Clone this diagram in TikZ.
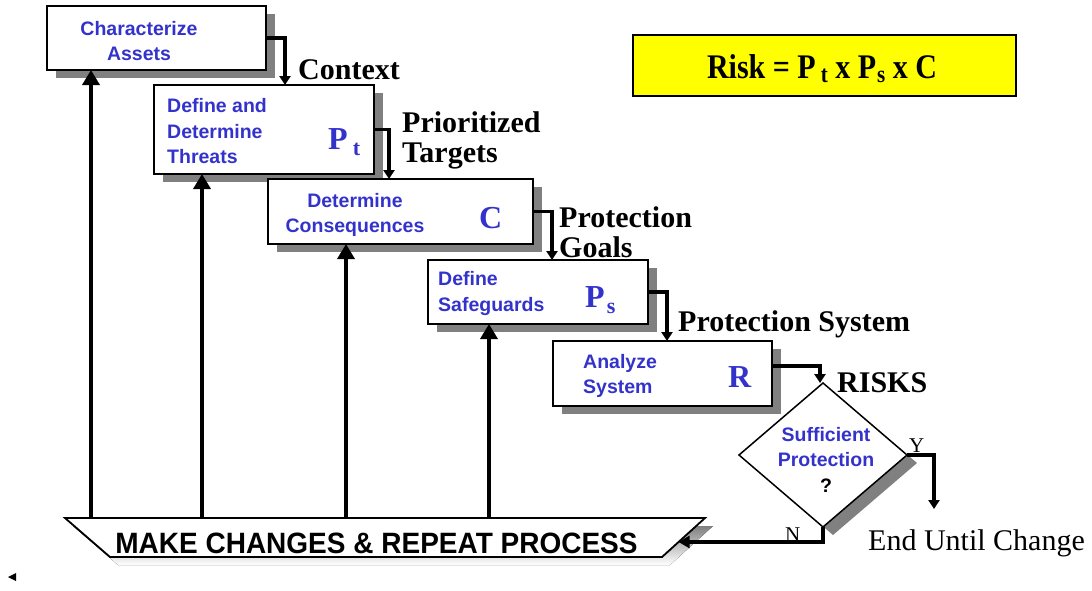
\documentclass[tikz,border=0pt]{standalone}
\usepackage{fontspec}
\usepackage{graphicx}
\newfontfamily\arl{Liberation Sans}
\newfontfamily\tnr{Liberation Serif}
\usetikzlibrary{shapes.geometric,arrows.meta,shadows,calc}
\definecolor{boxblue}{RGB}{51,51,204}
\definecolor{shade}{RGB}{128,128,128}
\definecolor{riskyellow}{RGB}{255,255,0}
\begin{document}
\begin{tikzpicture}[x=1pt,y=-1pt,
  stepbox/.style={draw=black, line width=1.8pt, fill=white, inner sep=0pt, outer sep=0pt,
    drop shadow={shadow xshift=9pt, shadow yshift=-8pt, fill=shade, opacity=1}},
  btxt/.style={font=\arl\bfseries\fontsize{19.5}{25.5}\selectfont, text=boxblue, inner sep=0pt},
  sym/.style={font=\tnr\bfseries\fontsize{32}{32}\selectfont, text=boxblue, inner sep=0pt, anchor=base west},
  lbl/.style={font=\tnr\bfseries\fontsize{30}{30}\selectfont, inner sep=0pt, anchor=base west},
  plain/.style={font=\tnr\fontsize{30}{30}\selectfont, inner sep=0pt, anchor=base west},
  yn/.style={font=\tnr\fontsize{21}{21}\selectfont, inner sep=0pt, anchor=base west},
  conn/.style={line width=3.2pt, -{Triangle[width=11pt,length=9pt]}},
  uparr/.style={line width=3.5pt, -{Triangle[width=17pt,length=15pt]}}
]
\useasboundingbox (0,0) rectangle (1092,590);

% process boxes
\node[stepbox, minimum width=219pt, minimum height=64pt] (b1) at (156.5,38) {};
\node[stepbox, minimum width=220pt, minimum height=89pt] (b2) at (264,129.5) {};
\node[stepbox, minimum width=265pt, minimum height=65pt] (b3) at (400.5,211.5) {};
\node[stepbox, minimum width=220pt, minimum height=64pt] (b4) at (538,292) {};
\node[stepbox, minimum width=219pt, minimum height=65pt] (b5) at (662.5,373.5) {};

% decision diamond
\node[diamond, draw=black, line width=1.5pt, fill=white, inner sep=0pt, outer sep=0pt,
  minimum width=168pt, minimum height=144pt,
  drop shadow={shadow xshift=10pt, shadow yshift=-8pt, fill=shade, opacity=1}] (dia) at (823,455) {};

% trapezoid
\coordinate (tzTL) at (65,518);
\coordinate (tzTR) at (705,518);
\coordinate (tzBR) at (662,557);
\coordinate (tzBL) at (110,557);
\fill[shade] ($(tzTL)+(8,8)$) -- ($(tzTR)+(8,8)$) -- ($(tzBR)+(8,8)$) -- ($(tzBL)+(8,8)$) -- cycle;
\draw[line width=1.8pt, fill=white] (tzTL) -- (tzTR) -- (tzBR) -- (tzBL) -- cycle;
\node[font=\arl\bfseries\fontsize{28}{28}\selectfont, inner sep=0pt, anchor=base] (mk) at (376.5,553.5) {\scalebox{1}[1.05]{MAKE CHANGES \& REPEAT PROCESS}};

% box texts
\node[btxt, anchor=base] (t1) at (139,35) {\begin{tabular}[t]{@{}c@{}}Characterize\\Assets\end{tabular}};
\node[btxt, anchor=base west] (t2) at (167,112.7) {\begin{tabular}[t]{@{}l@{}}Define and\\Determine\\Threats\end{tabular}};
\node[btxt, anchor=base] (t3) at (355,207.3) {\begin{tabular}[t]{@{}c@{}}Determine\\Consequences\end{tabular}};
\node[btxt, anchor=base west] (t4) at (438,285.5) {\begin{tabular}[t]{@{}l@{}}Define\\Safeguards\end{tabular}};
\node[btxt, anchor=base west] (t5) at (583,368) {\begin{tabular}[t]{@{}l@{}}Analyze\\System\end{tabular}};
\node[btxt, anchor=base] (t6) at (826,441) {\begin{tabular}[t]{@{}c@{}}Sufficient\\Protection\\\textcolor{black}{?}\end{tabular}};

% symbols
\node[sym] (s2) at (328,149) {P\hspace{5pt}\raisebox{-6pt}{\fontsize{22}{22}\selectfont t}};
\node[sym] (s3) at (479,228) {C};
\node[sym] (s4) at (585,307) {P\hspace{2pt}\raisebox{-6pt}{\fontsize{22}{22}\selectfont s}};
\node[sym] (s5) at (728,387) {R};

% labels
\node[lbl] (l1) at (298,79) {Context};
\node[lbl] (l2a) at (402,132) {Prioritized};
\node[lbl] (l2b) at (402,162) {Targets};
\node[lbl] (l3a) at (559,227) {Protection};
\node[lbl] (l3b) at (559,257) {Goals};
\node[lbl] (l4) at (678,331) {Protection System};
\node[lbl] (l5) at (837,392) {RISKS};
\node[plain] (end) at (868,550) {End Until Change};
\node[yn] (ly) at (909,452) {Y};
\node[yn] (ln) at (785,541) {N};

% risk formula
\node[draw=black, line width=2pt, fill=riskyellow, minimum width=383pt, minimum height=61pt, inner sep=0pt] (risk) at (824.5,65.5) {};
\node[font=\tnr\bfseries\fontsize{30}{30}\selectfont, inner sep=0pt, anchor=base] (rf) at (822,78)
  {\scalebox{1}[1.15]{Risk = P\hspace{5pt}\raisebox{-4pt}{\fontsize{21}{21}\selectfont t} x P\hspace{1pt}\raisebox{-4pt}{\fontsize{21}{21}\selectfont s} x C}};

% connectors between boxes
\coordinate (k1) at (285,0);
\coordinate (k2) at (389,0);
\coordinate (k3) at (552,0);
\coordinate (k4) at (667,0);
\coordinate (k5) at (820,366);
\draw[conn] (b1.east) -| (k1 |- b2.north);
\draw[conn] (b2.east) -| (k2 |- b3.north);
\draw[conn] (b3.east) -| (k3 |- b4.north);
\draw[conn] (b4.east) -| (k4 |- b5.north);
\draw[conn] (b5.east |- k5) -| (k5 |- dia.north);

% decision outcomes
\coordinate (yend) at (934,509);
\coordinate (nin) at ($(tzTR)!0.615!(tzBR)$);
\draw[conn] (dia.east) -| (yend);
\draw[line width=3.2pt, -{Triangle[width=12pt,length=11pt]}] (dia.south) |- (nin);

% feedback arrows
\coordinate (u1) at (91,518);
\coordinate (u2) at (202,518);
\coordinate (u3) at (346,518);
\coordinate (u4) at (489,518);
\draw[uparr] (u1) -- (u1 |- b1.south);
\draw[uparr] (u2) -- (u2 |- b2.south);
\draw[uparr] (u3) -- (u3 |- b3.south);
\draw[uparr] (u4) -- (u4 |- b4.south);

% stray arrow tip
\fill (8,577) -- (16,573) -- (16,581) -- cycle;
\end{tikzpicture}
\end{document}
